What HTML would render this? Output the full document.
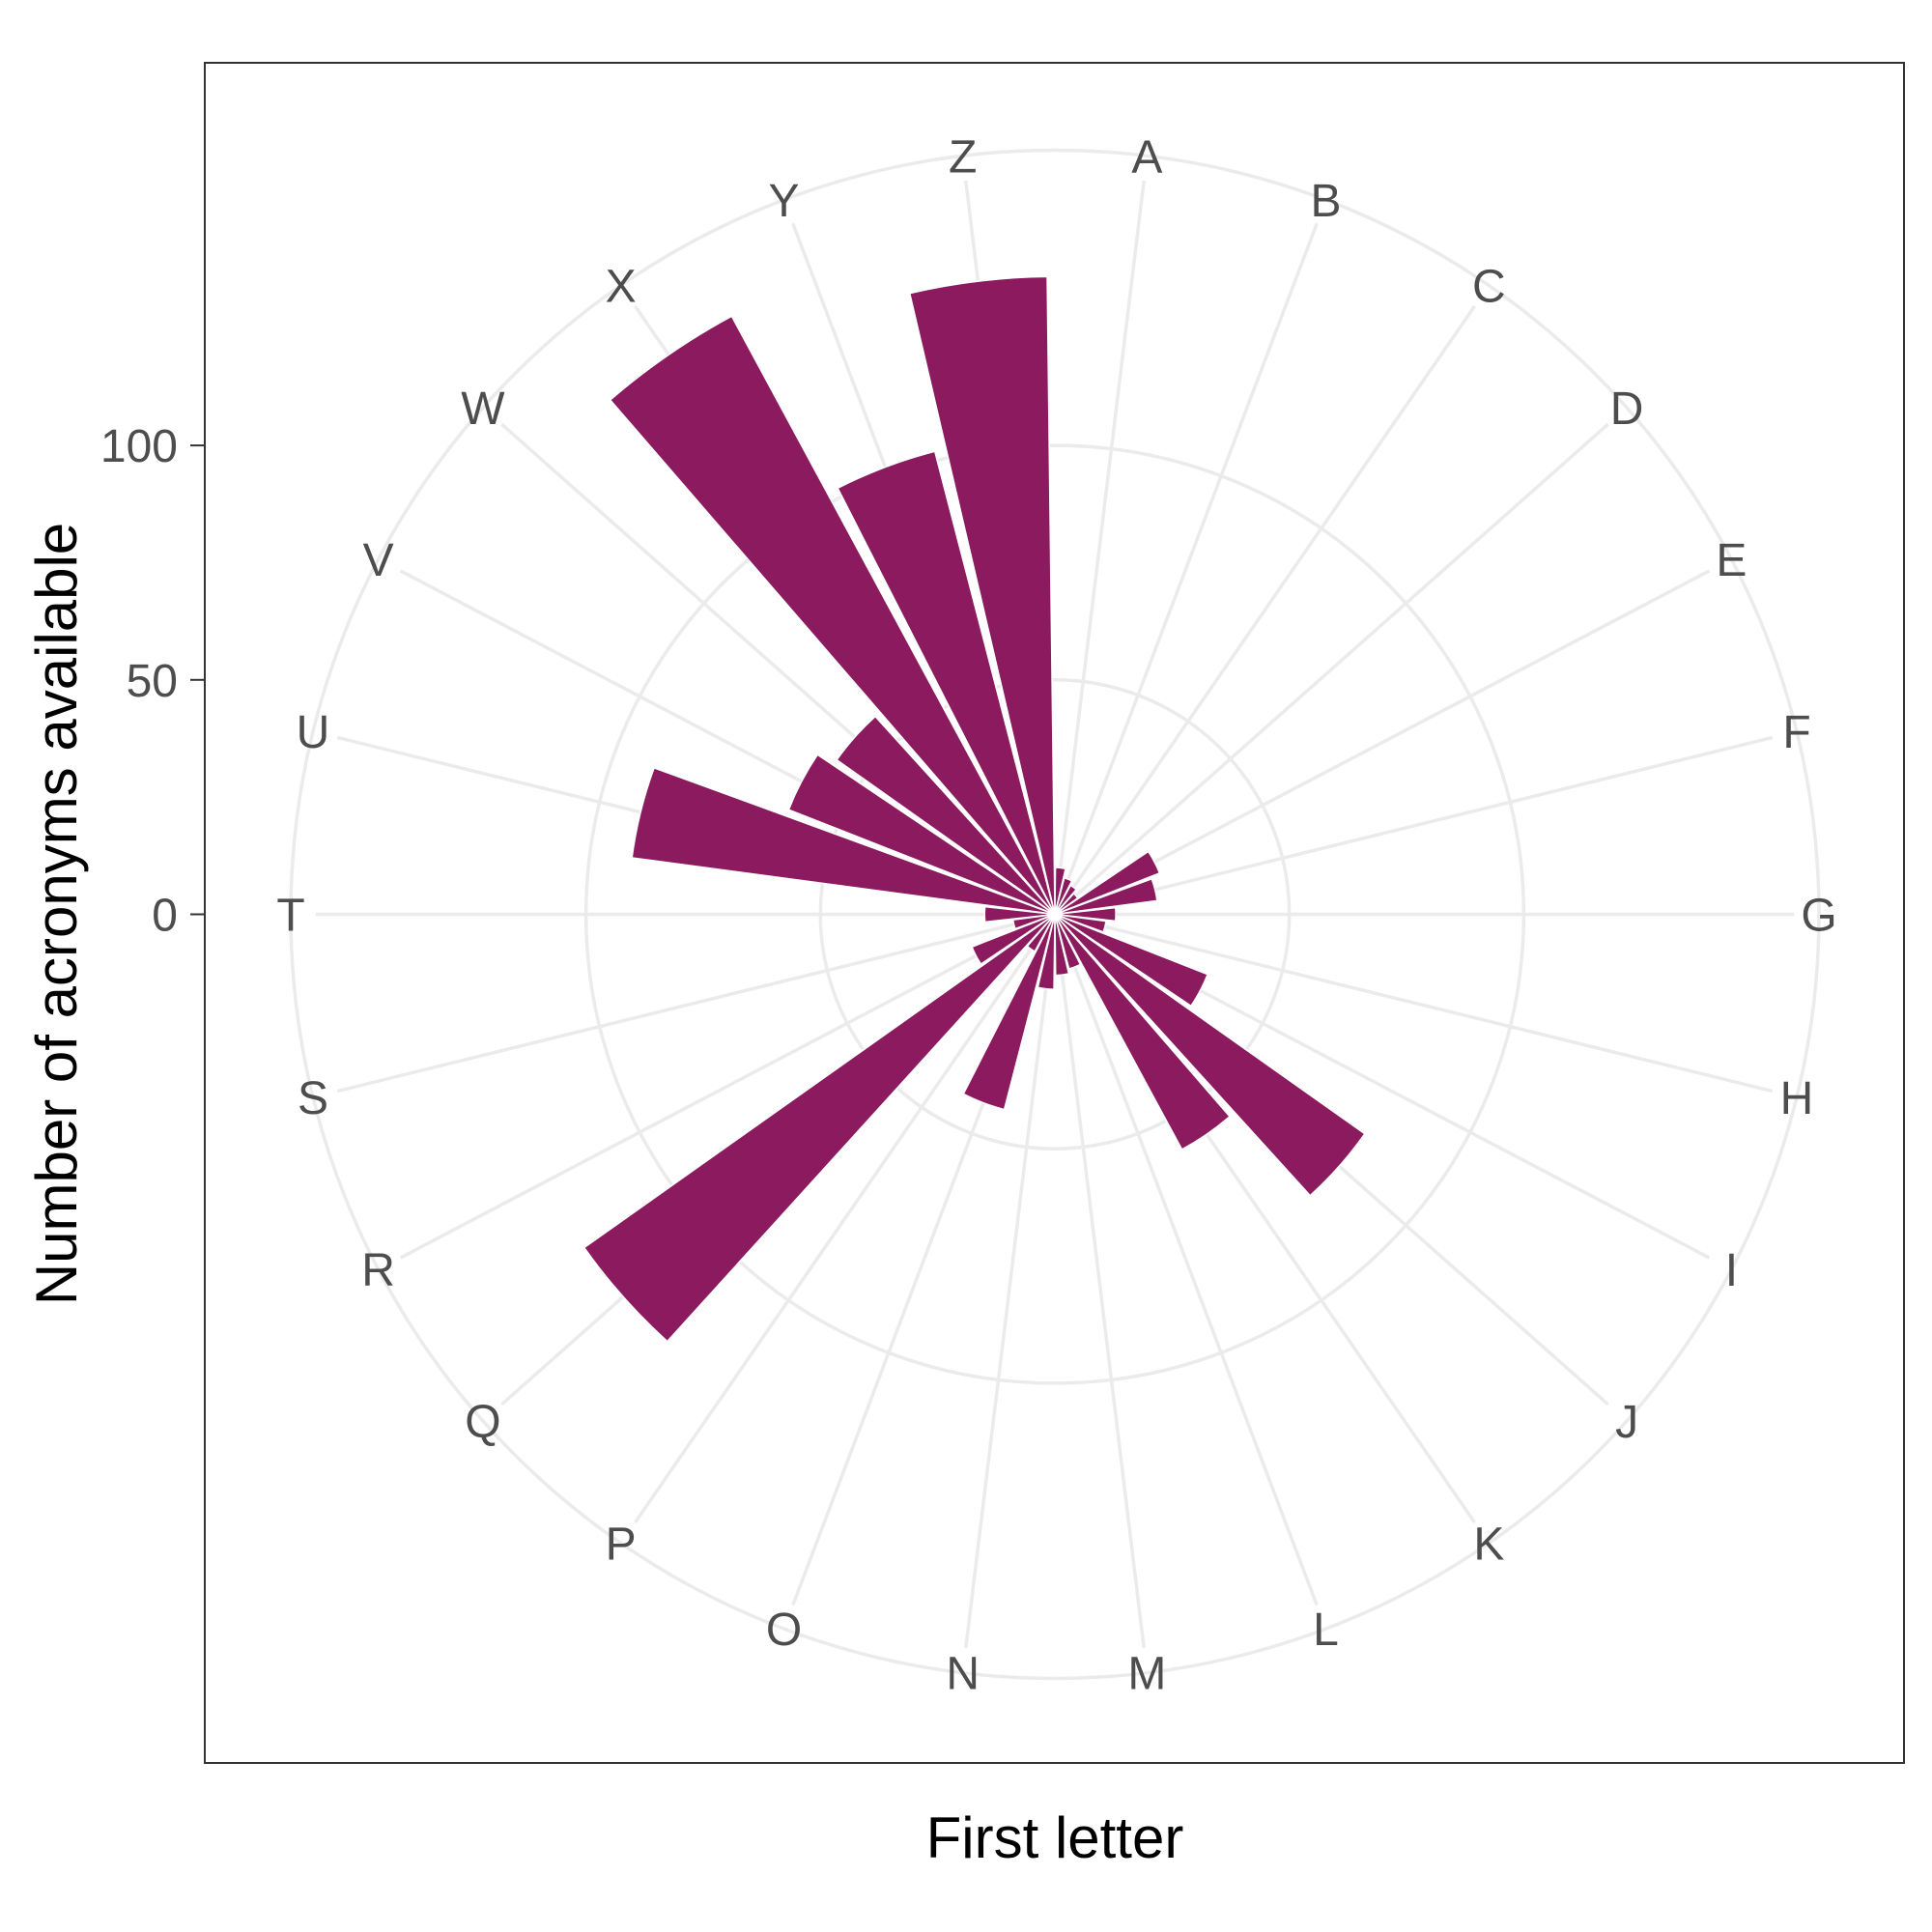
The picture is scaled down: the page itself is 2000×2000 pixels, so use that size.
<!DOCTYPE html>
<html><head><meta charset="utf-8"><style>
html,body{margin:0;padding:0;background:#fff;}
svg{display:block;font-family:"Liberation Sans",Arial,sans-serif;}
</style></head><body>
<svg id="chart" width="2000" height="2000" viewBox="0 0 2000 2000" xmlns="http://www.w3.org/2000/svg">
<rect x="0" y="0" width="2000" height="2000" fill="#fff"/>
<g id="grid"></g>
<g id="bars"></g>
<g id="labels"></g>
<g id="yaxis"></g>
<rect x="212" y="65" width="1759" height="1760" fill="none" stroke="#333" stroke-width="2"/>
<text x="1092" y="1923" font-size="60" text-anchor="middle" fill="#000">First letter</text>
<text transform="translate(79,946) rotate(-90)" font-size="60" text-anchor="middle" fill="#000">Number of acronyms available</text>
</svg>
<script>
const categories = ["A","B","C","D","E","F","G","H","I","J","K","L","M","N","O","P","Q","R","S","T","U","V","W","X","Y","Z"];
const values = [10,8,7,6,24,22,13,11,35,81,57,12,13,16,43,9,123,19,9,15,91,61,57,145,102,136];
const yTicks = [0,50,100];
const yTickLabels = ["0","50","100"];

const NS="http://www.w3.org/2000/svg";
const cx=1092, cy=946.5, pxPerUnit=4.854, outerR=791;
const n=categories.length, step=2*Math.PI/n;
function rScale(v){return v*pxPerUnit;}
function pt(a,r){return [cx+r*Math.sin(a), cy-r*Math.cos(a)];}
function mk(tag,attrs,parent){const e=document.createElementNS(NS,tag);for(const k in attrs)e.setAttribute(k,attrs[k]);parent.appendChild(e);return e;}

const grid=document.getElementById('grid');
yTicks.forEach((t,i)=>{
  if(t>0){
    const c=mk('circle',{cx:cx,cy:cy,r:rScale(t),fill:'none',stroke:'#ebebeb','stroke-width':3.5},grid);
    
    
  }
});
const oc=mk('circle',{cx:cx,cy:cy,r:outerR,fill:'none',stroke:'#ebebeb','stroke-width':3.5},grid);


categories.forEach((c,i)=>{
  const a=(i+0.5)*step;
  const p=pt(a,765);
  const l=mk('line',{x1:cx,y1:cy,x2:p[0],y2:p[1],stroke:'#ebebeb','stroke-width':3.5},grid);
  
  
});

const bars=document.getElementById('bars');
categories.forEach((c,i)=>{
  const a0=(i+0.05)*step, a1=(i+0.95)*step, r=rScale(values[i]);
  const p0=pt(a0,r), p1=pt(a1,r);
  const d=`M${cx},${cy} L${p0[0]},${p0[1]} A${r},${r} 0 0 1 ${p1[0]},${p1[1]} Z`;
  const b=mk('path',{d:d,fill:'#8b1a5f',stroke:'#fff','stroke-width':1.5},bars);
  
  
});

const labels=document.getElementById('labels');
categories.forEach((c,i)=>{
  const p=pt((i+0.5)*step,outerR);
  const t=mk('text',{x:p[0],y:p[1]+17,'font-size':48,'text-anchor':'middle',fill:'#4d4d4d'},labels);
  t.textContent=c;
  
  
});

const yaxis=document.getElementById('yaxis');
yTicks.forEach((t,i)=>{
  const y=cy-rScale(t);
  const tk=mk('line',{x1:197,y1:y,x2:212,y2:y,stroke:'#333','stroke-width':2},yaxis);
  
  
  const tl=mk('text',{x:184,y:y+17,'font-size':48,'text-anchor':'end',fill:'#4d4d4d'},yaxis);
  tl.textContent=yTickLabels[i];
  
  
});
</script>
</body></html>
